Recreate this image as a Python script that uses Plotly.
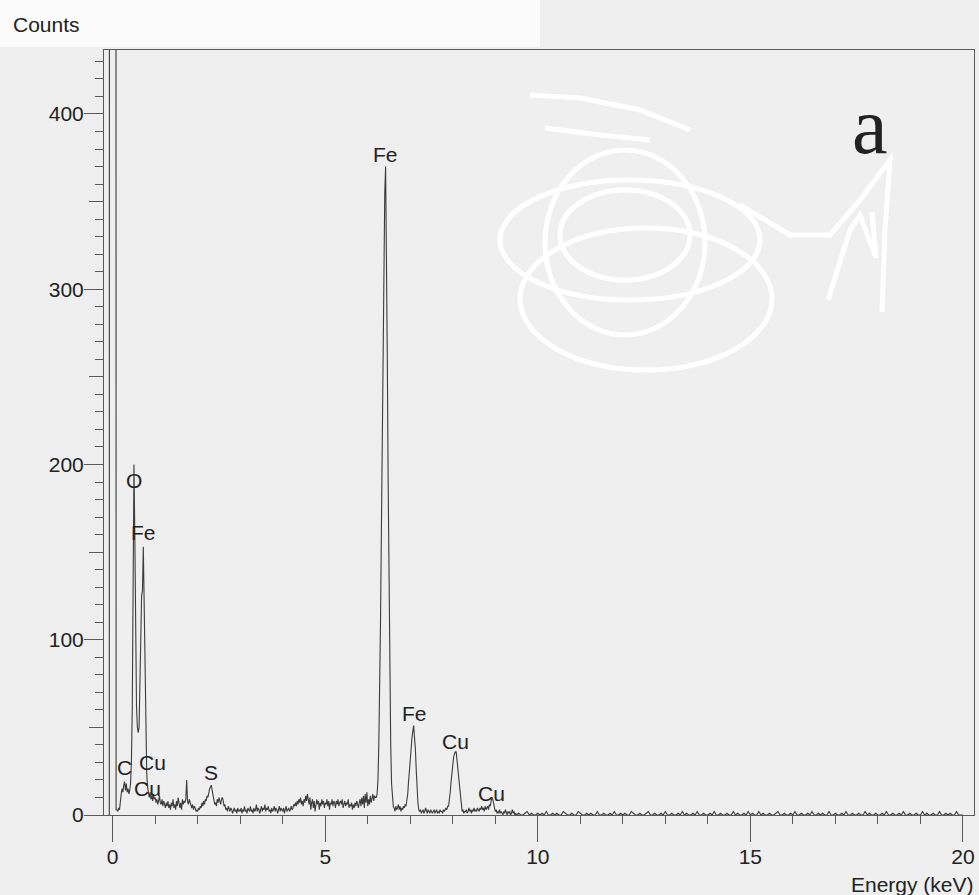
import numpy as np
import plotly.graph_objects as go

# ---------------- data ----------------
# zero-energy (noise) peak, off scale
zero_energy = [-0.10, -0.08, -0.07, 0.07, 0.08]
zero_counts = [0, 0, 2000, 2000, 3]

STEP_FINE = 0.02
# 0.10 - 0.98 keV : C, O Ka, Fe L
seg_low_start = 0.10
seg_low = [3, 2, 4, 3, 9, 12, 15, 13, 17, 19, 14, 18, 13, 15, 12, 14, 18, 30, 60, 125,
           200, 160, 100, 62, 50, 47, 50, 68, 100, 125, 128, 153, 115, 70, 40, 24, 16, 12, 10, 13,
           9, 11, 8, 12, 9]
# 1.00 - 1.98 keV
seg_1_start = 1.00
seg_1 = [10, 7, 9, 6, 8, 11, 7, 6, 9, 5, 8, 6, 4, 7, 5, 8, 4, 6, 3, 7,
         5, 9, 4, 6, 3, 8, 5, 10, 6, 4, 7, 3, 9, 6, 8, 7, 9, 20, 8, 6,
         9, 7, 5, 4, 6, 3, 5, 4, 2, 3]
# 2.00 - 2.98 keV : S
seg_2_start = 2.00
seg_2 = [2, 4, 3, 5, 4, 7, 5, 8, 6, 9, 8, 11, 10, 13, 15, 16, 17, 14, 11, 8,
         6, 7, 5, 9, 7, 10, 8, 6, 9, 10, 8, 5, 6, 3, 4, 2, 5, 3, 2, 4,
         3, 1, 3, 4, 2, 3, 1, 4, 2, 3]
# 3.00 - 4.28 keV
seg_3_start = 3.00
seg_3 = [2, 4, 1, 3, 2, 5, 2, 3, 1, 4, 3, 2, 5, 2, 3, 1, 4, 2, 3, 6,
         2, 4, 3, 1, 3, 5, 2, 4, 3, 6, 2, 4, 3, 5, 2, 3, 1, 4, 2, 3,
         5, 2, 4, 3, 1, 3, 5, 2, 4, 3, 2, 4, 1, 3, 5, 2, 3, 4, 2, 3,
         5, 3, 4, 6, 5]
# 4.30 - 6.18 keV
seg_4_start = 4.30
seg_4 = [7, 5, 8, 6, 9, 7, 10, 6, 8, 5, 9, 7, 11, 8, 12, 9, 6, 10, 3, 7,
         9, 4, 8, 2, 7, 9, 6, 8, 3, 7, 5, 9, 6, 8, 4, 7, 6, 9, 5, 8,
         3, 7, 6, 9, 5, 8, 7, 4, 8, 6, 9, 5, 7, 8, 6, 9, 4, 7, 8, 5,
         7, 6, 9, 4, 6, 5, 7, 3, 6, 4, 7, 5, 8, 6, 4, 7, 9, 5, 10, 6,
         11, 4, 12, 7, 13, 5, 9, 6, 11, 7, 10, 12, 8, 11, 10]
# 6.20 - 6.60 keV : Fe Ka
seg_feka_start = 6.20
seg_feka = [10, 12, 20, 40, 70, 110, 160, 215, 270, 320, 355, 370, 330, 260, 190, 125, 75, 40, 18, 8, 5]
# 6.62 - 7.28 keV : Fe Kb
seg_fekb_start = 6.62
seg_fekb = [4, 2, 5, 3, 4, 6, 3, 5, 2, 4, 3, 5, 4, 6, 5, 8, 12, 19, 27, 34,
            39, 44, 48, 51, 44, 38, 26, 15, 7, 3, 2, 3, 1, 2]
# 7.30 - 8.28 keV : Cu Ka
seg_cuka_start = 7.30
seg_cuka = [3, 1, 2, 4, 2, 1, 3, 2, 1, 3, 2, 1, 2, 3, 1, 2, 3, 1, 2, 1,
            3, 2, 2, 1, 3, 2, 3, 4, 3, 5, 5, 8, 13, 19, 25, 30, 33, 35, 36, 36,
            31, 26, 21, 15, 9, 5, 2, 3, 1, 2]
# 8.30 - 9.48 keV : Cu Kb
seg_cukb_start = 8.30
seg_cukb = [2, 3, 1, 2, 4, 2, 3, 1, 3, 2, 4, 2, 3, 2, 4, 3, 2, 4, 3, 5,
            3, 4, 2, 5, 3, 4, 5, 3, 6, 5, 8, 10, 9, 6, 4, 2, 3, 1, 2, 1,
            3, 1, 2, 1, 0, 2, 1, 3, 1, 0, 2, 1, 2, 0, 1, 3, 1, 2, 0, 1]
# 9.50 - 20.00 keV tail (0.05 keV channels)
STEP_TAIL = 0.05
seg_tail_start = 9.50
seg_tail = [0, 1, 0, 0, 1, 2, 0, 1, 0, 0, 1, 0, 1, 0, 2, 0, 0, 1, 0, 1,
            0, 0, 2, 1, 0, 0, 1, 0, 0, 2, 1, 0, 0, 1, 0, 1, 0, 0, 2, 0,
            0, 1, 0, 0, 1, 0, 2, 0, 0, 1, 0, 1, 0, 0, 2, 1, 0, 0, 1, 0,
            0, 1, 2, 0, 0, 1, 0, 0, 1, 0, 2, 0, 0, 1, 0, 0, 1, 0, 2, 0,
            1, 0, 0, 1, 0, 2, 0, 0, 1, 0, 0, 1, 0, 2, 0, 0, 1, 0, 0, 1,
            0, 0, 2, 0, 1, 0, 0, 1, 0, 2,
            0, 1, 0, 0, 2, 0, 1, 0, 0, 1, 0, 0, 1, 2, 0, 0, 1, 0, 0, 1,
            0, 2, 0, 0, 1, 0, 0, 1, 0, 2, 0, 0, 1, 0, 1, 0, 0, 2, 0, 0,
            1, 0, 0, 1, 0, 2, 0, 0, 1, 0, 0, 1, 0, 0, 2, 0, 1, 0, 0, 1,
            0, 0, 1, 0, 2, 0, 0, 1, 0, 0, 1, 0, 2, 0, 0, 1, 0, 0, 1, 0,
            0, 2, 0, 1, 0, 0, 1, 0, 0, 2, 0, 0, 1, 0, 1, 0, 0, 2, 0, 0, 0]

# peak labels
label_text = ["C", "O", "Fe", "Cu", "Cu", "S", "Fe", "Fe", "Cu", "Cu"]
label_energy = [0.27, 0.50, 0.72, 0.93, 0.82, 2.32, 6.41, 7.09, 8.06, 8.90]
label_counts = [27, 191, 161, 30, 15, 24.5, 377, 58, 42, 12.5]

x_ticks = [0, 5, 10, 15, 20]
y_ticks = [0, 100, 200, 300, 400]


def channels(start, values, step):
    return list(np.round(start + step * np.arange(len(values)), 3))


energy = list(zero_energy)
counts = list(zero_counts)
for st, vals in [(seg_low_start, seg_low), (seg_1_start, seg_1), (seg_2_start, seg_2),
                 (seg_3_start, seg_3), (seg_4_start, seg_4), (seg_feka_start, seg_feka),
                 (seg_fekb_start, seg_fekb), (seg_cuka_start, seg_cuka), (seg_cukb_start, seg_cukb)]:
    energy += channels(st, vals, STEP_FINE)
    counts += vals
energy += channels(seg_tail_start, seg_tail, STEP_TAIL)
counts += seg_tail

# ---------------- figure ----------------
W, H = 979, 895
ML, MR, MT, MB = 104, 5, 50, 80
PW, PH = W - ML - MR, H - MT - MB
BG = "#efefef"
AX = "#5a5a5a"
TXT = "#222222"
FONT = "Liberation Sans, Arial, sans-serif"

fig = go.Figure()
fig.add_trace(go.Scatter(x=energy, y=counts, mode="lines",
                         line=dict(color="#3c3c3c", width=1.1), hoverinfo="skip",
                         showlegend=False))
# helper trace so that the 50-count tick axis is drawn
fig.add_trace(go.Scatter(x=[0], y=[0], yaxis="y2", mode="markers", opacity=0,
                         hoverinfo="skip", showlegend=False))

for t, e, c in zip(label_text, label_energy, label_counts):
    fig.add_annotation(x=e, y=c, text=t, showarrow=False, xanchor="center", yanchor="middle",
                       font=dict(family=FONT, size=21, color=TXT))


def pxx(p):
    return (p - ML) / PW


def pxy(p):
    return (MT + PH - p) / PH


# axis titles and panel letter
fig.add_annotation(xref="paper", yref="paper", x=pxx(11), y=pxy(25), text="Counts",
                   showarrow=False, xanchor="left", yanchor="middle",
                   font=dict(family=FONT, size=21, color=TXT))
fig.add_annotation(xref="paper", yref="paper", x=pxx(976), y=pxy(885), text="Energy (keV)",
                   showarrow=False, xanchor="right", yanchor="middle",
                   font=dict(family=FONT, size=21, color=TXT))
fig.add_annotation(xref="paper", yref="paper", x=pxx(870), y=pxy(126), text="a",
                   showarrow=False, xanchor="center", yanchor="middle",
                   font=dict(family="Liberation Serif, Times New Roman, serif", size=80, color=TXT))

shapes = []
# whiter paper strip at the top of the scan
shapes.append(dict(type="rect", xref="paper", yref="paper", x0=pxx(0), x1=pxx(540),
                   y0=pxy(47), y1=pxy(0), fillcolor="#fbfbfb", line=dict(width=0), layer="below"))
# white scribble (redaction) over the upper right
scrib = dict(color="white", width=5)
for (x0, y0, x1, y1) in [(500, 180, 760, 300), (520, 228, 772, 370), (545, 150, 705, 335),
                         (560, 190, 690, 280)]:
    shapes.append(dict(type="circle", xref="paper", yref="paper", x0=pxx(x0), x1=pxx(x1),
                       y0=pxy(y1), y1=pxy(y0), line=scrib, layer="above"))


def path(pts):
    s = "M {} {}".format(pxx(pts[0][0]), pxy(pts[0][1]))
    for (a, b) in pts[1:]:
        s += " L {} {}".format(pxx(a), pxy(b))
    return s


for pts in [[(530, 95), (580, 98), (640, 110), (690, 130)],
            [(545, 128), (600, 135), (650, 140)],
            [(740, 205), (790, 235), (830, 235), (860, 200), (890, 160), (885, 230), (882, 312)],
            [(828, 300), (850, 230), (860, 215), (876, 258), (872, 212)]]:
    shapes.append(dict(type="path", xref="paper", yref="paper", path=path(pts),
                       line=scrib, layer="above"))

xr = [-(112.7 - ML) / 42.51, -(112.7 - ML) / 42.51 + PW / 42.51]
yr = [0, PH / 1.7526]

fig.update_layout(
    width=W, height=H,
    margin=dict(l=ML, r=MR, t=MT, b=MB, pad=0),
    paper_bgcolor=BG, plot_bgcolor=BG,
    showlegend=False,
    shapes=shapes,
    xaxis=dict(range=xr, tickvals=x_ticks, ticktext=[str(v) for v in x_ticks],
               ticks="outside", ticklen=26, tickwidth=1, tickcolor=AX,
               minor=dict(dtick=1, tick0=0, ticks="outside", ticklen=8, tickcolor=AX, tickwidth=1),
               showline=True, linecolor=AX, linewidth=1, mirror=True,
               showgrid=False, zeroline=False,
               tickfont=dict(family=FONT, size=21, color=TXT), ticklabelstandoff=-3,
               fixedrange=True),
    yaxis=dict(range=yr, tickvals=y_ticks, ticktext=[str(v) for v in y_ticks],
               ticks="outside", ticklen=19, tickwidth=1, tickcolor=AX,
               minor=dict(dtick=10, tick0=0, ticks="outside", ticklen=8, tickcolor=AX, tickwidth=1),
               showline=True, linecolor=AX, linewidth=1, mirror=True,
               showgrid=False, zeroline=False,
               tickfont=dict(family=FONT, size=21, color=TXT), ticklabelstandoff=-4,
               fixedrange=True),
    yaxis2=dict(range=yr, overlaying="y", side="left", anchor="x", dtick=50, tick0=0,
                ticks="outside", ticklen=14, tickwidth=1, tickcolor=AX,
                showticklabels=False, showline=False, showgrid=False, zeroline=False,
                fixedrange=True),
)

fig.write_html("out.html", config={"displayModeBar": False},
               post_script="document.body.style.margin='0';document.body.style.overflow='hidden';")
